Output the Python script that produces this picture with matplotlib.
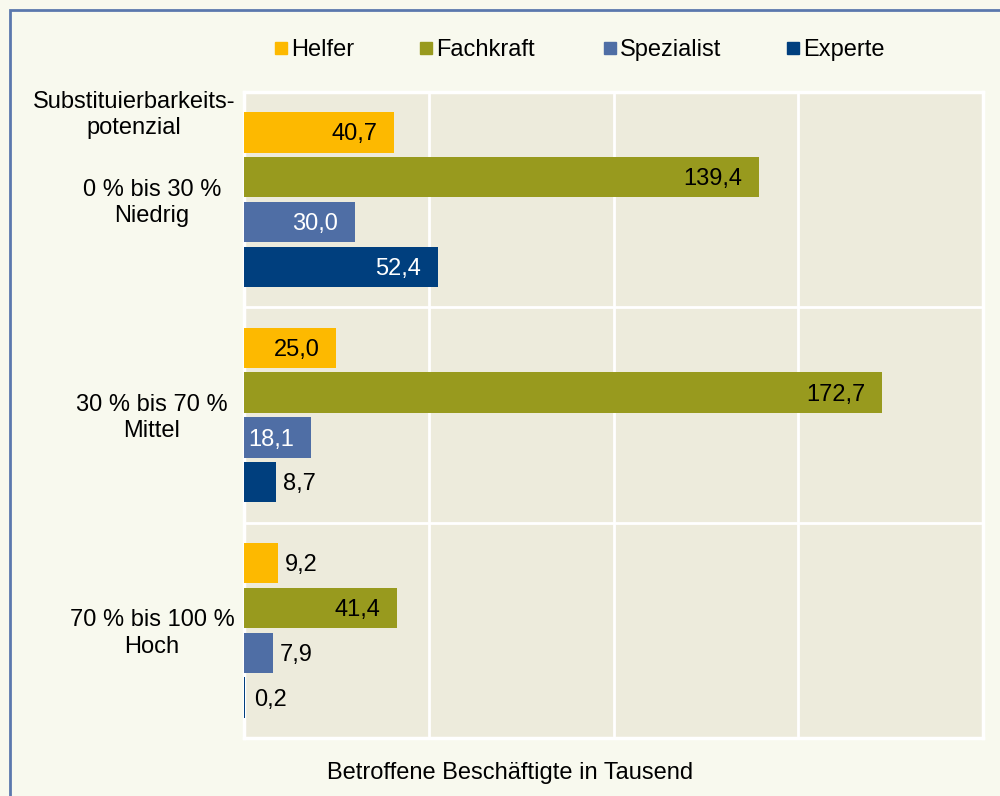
import matplotlib.pyplot as plt
from matplotlib.patches import Rectangle
import matplotlib.transforms as mtransforms

plt.rcParams['font.family'] = ['Liberation Sans', 'DejaVu Sans']

# daten (Tausend Beschäftigte)
groups = ["0 % bis 30 %\nNiedrig", "30 % bis 70 %\nMittel", "70 % bis 100 %\nHoch"]
levels = ["Helfer", "Fachkraft", "Spezialist", "Experte"]
helfer = [40.7, 25.0, 9.2]
fachkraft = [139.4, 172.7, 41.4]
spezialist = [30.0, 18.1, 7.9]
experte = [52.4, 8.7, 0.2]
series = [helfer, fachkraft, spezialist, experte]

colors = ["#fdb900", "#989a1e", "#4f6ea5", "#003f7e"]
inner_text = ["black", "black", "white", "white"]
FS = 17

W, H = 1000, 796
fig = plt.figure(figsize=(10, 7.96), dpi=100, facecolor="#f8f9ee")
ax = fig.add_axes([0.244, 0.0729, 0.739, 0.8115])
ax.set_facecolor("#edebdc")

group_h = 4.8
for i, (vals, col) in enumerate(zip(series, colors)):
    ys = [g * group_h + 0.9 + i for g in range(len(groups))]
    ax.barh(ys, vals, height=0.9, color=col, zorder=3, label=levels[i])
    for y, v in zip(ys, vals):
        txt = f"{v:.1f}".replace(".", ",")
        if v > 15:
            ax.annotate(txt, (v, y), xytext=(-12, -1.5), textcoords="offset points",
                        ha="right", va="center", fontsize=FS, color=inner_text[i], zorder=4)
        else:
            ax.annotate(txt, (v, y), xytext=(5 if v > 1 else 6.5, -1.5), textcoords="offset points",
                        ha="left", va="center", fontsize=FS, color="black", zorder=4)

ax.set_xlim(0, 200)
ax.set_ylim(group_h * len(groups), 0)
ax.set_xticks([50, 100, 150])
ax.set_yticks([group_h, 2 * group_h])
ax.tick_params(length=0, labelbottom=False, labelleft=False)
ax.grid(True, color="white", linewidth=2, zorder=1)
for s in ax.spines.values():
    s.set_color("white")
    s.set_linewidth(2.5)

# gruppen-beschriftungen
trans = mtransforms.blended_transform_factory(fig.transFigure, ax.transData)
for g, lab in enumerate(groups):
    ax.text(0.152, g * group_h + group_h / 2 + 0.07, lab, transform=trans,
            ha="center", va="center", fontsize=FS, linespacing=1.25)
fig.text(0.134, 1 - 115 / H, "Substituierbarkeits-\npotenzial",
         ha="center", va="center", fontsize=FS, linespacing=1.2)

fig.text(0.51, 1 - 773 / H, "Betroffene Beschäftigte in Tausend",
         ha="center", va="center", fontsize=FS)

# legende
leg_x = [275, 420, 604, 787]
for x, lab, c in zip(leg_x, levels, colors):
    fig.add_artist(Rectangle((x / W, 1 - 54 / H), 12 / W, 12 / H,
                             transform=fig.transFigure, color=c))
    fig.text((x + 16) / W, 1 - 50 / H, lab, ha="left", va="center", fontsize=FS)

# rahmen
fig.add_artist(Rectangle((10 / W, -0.1), 1.2, 1 - 10 / H + 0.1,
                         transform=fig.transFigure, fill=False,
                         edgecolor="#5b78ad", linewidth=2))

fig.savefig("out.png", dpi=100, facecolor=fig.get_facecolor())
